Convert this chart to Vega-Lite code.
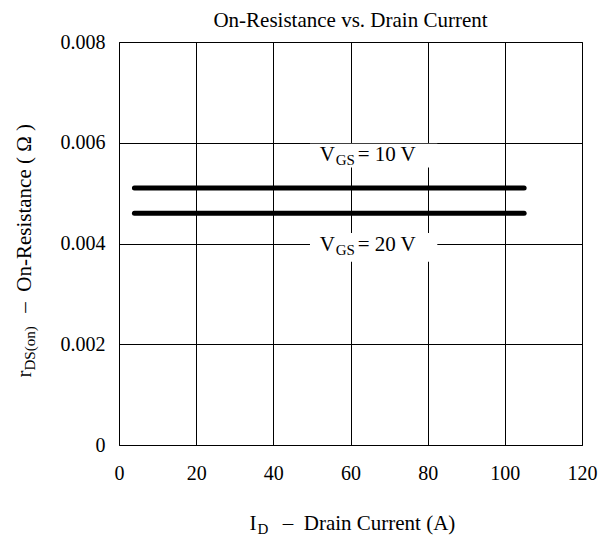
{
  "$schema": "https://vega.github.io/schema/vega-lite/v6.json",
  "width": 463,
  "height": 403,
  "autosize": {"type": "none"},
  "padding": {"left": 119, "top": 42, "right": 28, "bottom": 94},
  "background": "white",
  "title": {"text": "On-Resistance vs. Drain Current", "frame": "group", "anchor": "middle", "baseline": "alphabetic", "offset": -16, "font": "Liberation Serif", "fontSize": 21, "fontWeight": "normal", "color": "black"},
  "config": {"view": {"stroke": "black", "strokeWidth": 1}, "font": "Liberation Serif"},
  "datasets": {
    "curves": [
      {"vgs": "10 V", "id": 4, "rds": 0.0051},
      {"vgs": "10 V", "id": 105, "rds": 0.0051},
      {"vgs": "20 V", "id": 4, "rds": 0.0046},
      {"vgs": "20 V", "id": 105, "rds": 0.0046}
    ],
    "labels": [
      {"x": 52, "y": 0.00563, "rest": "\u00a0= 10 V"},
      {"x": 52, "y": 0.00386, "rest": "\u00a0= 20 V"}
    ],
    "boxes": [
      {"x1": 49.5, "x2": 82.5, "y1": 0.00598, "y2": 0.00551},
      {"x1": 49.5, "x2": 82.5, "y1": 0.00421, "y2": 0.00364}
    ]
  },
  "layer": [
    {
      "data": {"name": "boxes"},
      "mark": {"type": "rect", "fill": "white"},
      "encoding": {
        "x": {"field": "x1", "type": "quantitative", "scale": {"domain": [0, 120], "nice": false}, "axis": null},
        "x2": {"field": "x2"},
        "y": {"field": "y1", "type": "quantitative", "scale": {"domain": [0, 0.008], "nice": false}, "axis": null},
        "y2": {"field": "y2"}
      }
    },
    {
      "data": {"name": "curves"},
      "mark": {"type": "line", "color": "black", "strokeWidth": 5, "strokeCap": "round"},
      "encoding": {
        "x": {"field": "id", "type": "quantitative", "scale": {"domain": [0, 120], "nice": false},
          "axis": {"orient": "bottom", "values": [0, 20, 40, 60, 80, 100, 120], "grid": true, "gridColor": "black", "gridOpacity": 1, "gridWidth": 1, "domain": false, "ticks": false, "labelFont": "Liberation Serif", "labelFontSize": 20, "labelColor": "black", "labelPadding": 18, "labelFlush": false, "labelOverlap": false,
            "title": "I\u00a0\u00a0\u00a0\u00a0\u00a0–\u00a0\u00a0Drain Current (A)", "titleFont": "Liberation Serif", "titleFontSize": 21, "titleFontWeight": "normal", "titleColor": "black", "titleAlign": "left", "titleBaseline": "alphabetic", "titleX": 130, "titleY": 84, "titleAngle": 0}},
        "y": {"field": "rds", "type": "quantitative", "scale": {"domain": [0, 0.008], "nice": false},
          "axis": {"orient": "left", "values": [0, 0.002, 0.004, 0.006, 0.008], "labelExpr": "datum.value == 0 ? '0' : format(datum.value, '.3f')", "grid": true, "gridColor": "black", "gridOpacity": 1, "gridWidth": 1, "domain": false, "ticks": false, "labelFont": "Liberation Serif", "labelFontSize": 20, "labelColor": "black", "labelPadding": 14, "labelFlush": false, "labelOverlap": false,
            "title": "r\u00a0\u00a0\u00a0\u00a0\u00a0\u00a0\u00a0\u00a0\u00a0\u00a0\u00a0–\u00a0\u00a0On-Resistance\u00a0(\u00a0Ω\u00a0)", "titleFont": "Liberation Serif", "titleFontSize": 21, "titleFontWeight": "normal", "titleColor": "black", "titleAlign": "left", "titleBaseline": "alphabetic", "titleX": -89, "titleY": 335, "titleAngle": 270}},
        "detail": {"field": "vgs"}
      }
    },
    {
      "data": {"name": "labels"},
      "mark": {"type": "text", "text": "V", "align": "left", "baseline": "alphabetic", "font": "Liberation Serif", "fontSize": 21, "color": "black"},
      "encoding": {
        "x": {"field": "x", "type": "quantitative", "scale": {"domain": [0, 120], "nice": false},
          "axis": {"orient": "bottom", "labels": false, "ticks": false, "domain": false, "grid": false, "title": "D", "titleFont": "Liberation Serif", "titleFontSize": 15, "titleFontWeight": "normal", "titleColor": "black", "titleAlign": "left", "titleBaseline": "alphabetic", "titleX": 138, "titleY": 88, "titleAngle": 0}},
        "y": {"field": "y", "type": "quantitative", "scale": {"domain": [0, 0.008], "nice": false},
          "axis": {"orient": "left", "labels": false, "ticks": false, "domain": false, "grid": false, "title": "DS(on)", "titleFont": "Liberation Serif", "titleFontSize": 15, "titleFontWeight": "normal", "titleColor": "black", "titleAlign": "left", "titleBaseline": "alphabetic", "titleX": -85, "titleY": 328, "titleAngle": 270}}
      }
    },
    {
      "data": {"name": "labels"},
      "mark": {"type": "text", "text": "GS", "align": "left", "baseline": "alphabetic", "dx": 16, "dy": 4, "font": "Liberation Serif", "fontSize": 15, "color": "black"},
      "encoding": {
        "x": {"field": "x", "type": "quantitative", "scale": {"domain": [0, 120], "nice": false}, "axis": null},
        "y": {"field": "y", "type": "quantitative", "scale": {"domain": [0, 0.008], "nice": false}, "axis": null}
      }
    },
    {
      "data": {"name": "labels"},
      "mark": {"type": "text", "align": "left", "baseline": "alphabetic", "dx": 38, "font": "Liberation Serif", "fontSize": 21, "color": "black"},
      "encoding": {
        "x": {"field": "x", "type": "quantitative", "scale": {"domain": [0, 120], "nice": false}, "axis": null},
        "y": {"field": "y", "type": "quantitative", "scale": {"domain": [0, 0.008], "nice": false}, "axis": null},
        "text": {"field": "rest"}
      }
    }
  ],
  "resolve": {"axis": {"x": "independent", "y": "independent"}}
}
